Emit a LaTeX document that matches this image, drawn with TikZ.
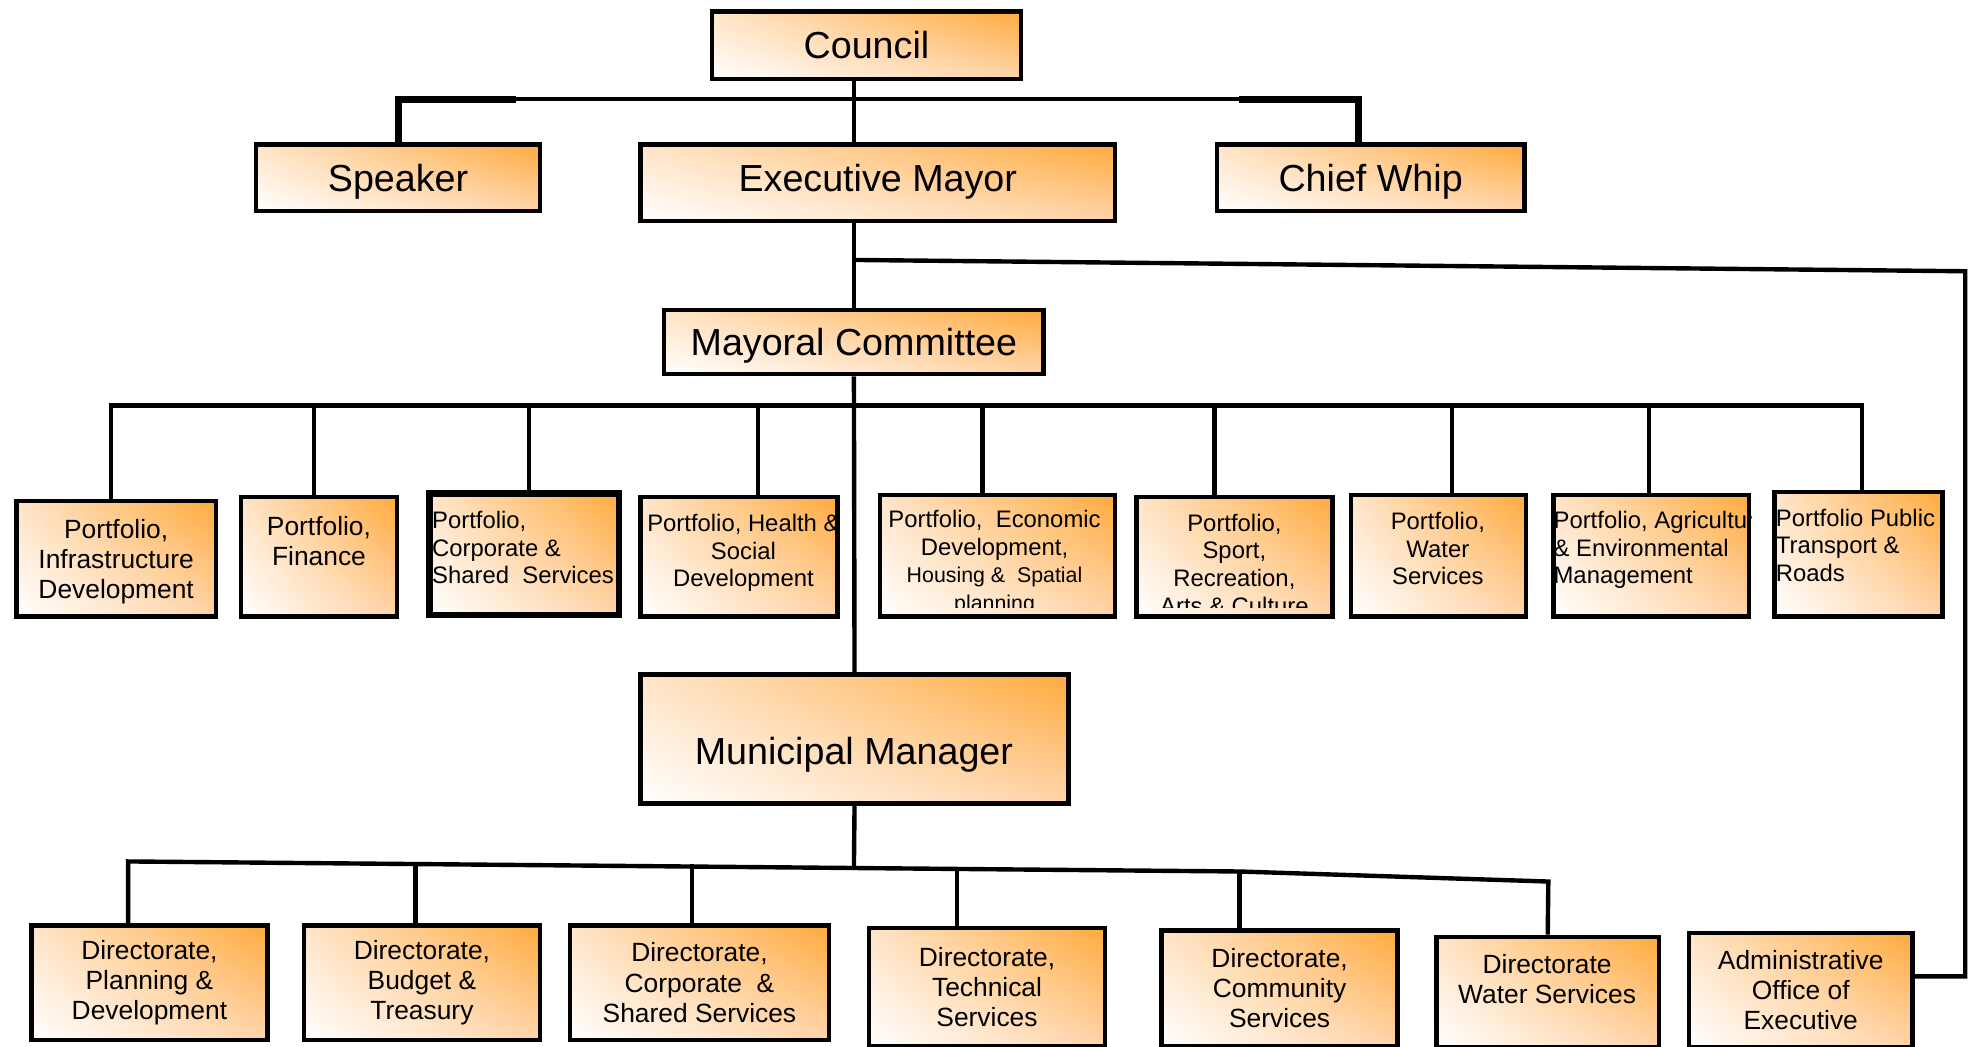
\documentclass[tikz,border=0pt]{standalone}
\usepackage{fontspec}
\setmainfont{Liberation Sans}
\usetikzlibrary{shadings}
\definecolor{boxorange}{RGB}{255,170,60}
\definecolor{boxpeach}{RGB}{255,228,200}
\definecolor{boxtan}{RGB}{255,212,170}
\tikzset{
  box/.style={draw,line width=3.5pt,upper right=boxorange,lower left=white,upper left=boxpeach,lower right=boxtan,inner sep=0pt},
  link/.style={line width=3.5pt},
  big/.style={font=\fontsize{30}{36}\selectfont,inner sep=0pt,text depth=0pt},
  mid/.style={font=\fontsize{21}{24}\selectfont,align=center,inner sep=0pt},
  sml/.style={font=\fontsize{19}{22}\selectfont,align=center,inner sep=0pt},
}
\begin{document}
\begin{tikzpicture}[x=1pt,y=-1pt]
\useasboundingbox (0,0) rectangle (1568,833);
\clip (0,0) rectangle (1568,833);
% council level
\node[box,big,minimum width=246pt,minimum height=54pt] (council) at (690,36) {Council};
\node[box,big,minimum width=226pt,minimum height=53pt] (speaker) at (317,141.5) {Speaker};
\node[box,big,text depth=8pt,minimum width=378pt,minimum height=61pt] (mayor) at (699,145.5) {Executive Mayor};
\node[box,big,minimum width=245pt,minimum height=53pt] (whip) at (1091.5,141.5) {Chief Whip};
\node[box,big,minimum width=302pt,minimum height=51pt] (mcom) at (680,272.5) {Mayoral Committee};
% portfolios
\node[box,minimum width=159pt,minimum height=92pt] (pf1) at (92.5,445) {};
\node[box,minimum width=124pt,minimum height=95pt] (pf2) at (254,443.5) {};
\node[box,line width=5pt,minimum width=151pt,minimum height=97pt] (pf3) at (417.5,441.5) {};
\node[box,minimum width=157pt,minimum height=95pt] (pf4) at (588.5,443.5) {};
\node[box,minimum width=187pt,minimum height=97pt] (pf5) at (794.5,442.5) {};
\node[box,minimum width=156pt,minimum height=95pt] (pf6) at (983,443.5) {};
\node[box,minimum width=139pt,minimum height=97pt] (pf7) at (1145.5,442.5) {};
\node[box,minimum width=156pt,minimum height=97pt] (pf8) at (1315,442.5) {};
\node[box,minimum width=134pt,minimum height=99pt] (pf9) at (1480,441.5) {};
\node[mid] (pf1t) at (92.5,447) {Portfolio,\\Infrastructure\\Development};
\node[mid] (pf2t) at (254,431) {Portfolio,\\Finance};
\node[sml,align=left,anchor=west] (pf3t) at (344,436) {Portfolio,\\Corporate \&\\Shared\ \ Services};
\node[sml] (pf4t) at (592,440.5) {Portfolio, Health \&\\Social\\Development};
\begin{scope}
  \clip (pf5.north west) rectangle ([yshift=9pt]pf5.south east);
  \node[sml,anchor=north] (pf5t) at (792,406) {Portfolio,\ \ Economic\\Development,\\\fontsize{17}{19}\selectfont Housing \&\ \ Spatial\\\fontsize{17}{19}\selectfont planning};
\end{scope}
\begin{scope}
  \clip (pf6.north west) rectangle ([yshift=9pt]pf6.south east);
  \node[sml,anchor=north] (pf6t) at (983,409) {Portfolio,\\Sport,\\Recreation,\\Arts \& Culture};
\end{scope}
\node[sml] (pf7t) at (1145,437) {Portfolio,\\Water\\Services};
\begin{scope}
  \clip (pf8.north west) rectangle (pf8.south east);
  \node[sml,align=left,anchor=north west] (pf8t) at (1237,407) {Portfolio, Agriculture\\\& Environmental\\Management};
\end{scope}
\node[sml,align=left,anchor=north west] (pf9t) at (1414,405) {Portfolio Public\\Transport \&\\Roads};
% manager level
\node[box,minimum width=341pt,minimum height=103pt] (mm) at (680.5,588.5) {};
\node[big] (mmt) at (680,598) {Municipal Manager};
\node[box,mid,minimum width=188pt,minimum height=91pt] (dir1) at (119,782.5) {Directorate,\\Planning \&\\Development};
\node[box,mid,minimum width=188pt,minimum height=91pt] (dir2) at (336,782.5) {Directorate,\\Budget \&\\Treasury};
\node[box,mid,minimum width=206pt,minimum height=91pt] (dir3) at (557,782.5) {Directorate,\\Corporate\ \ \&\\Shared Services};
\node[box,mid,minimum width=188pt,minimum height=94pt] (dir4) at (786,786) {Directorate,\\Technical\\Services};
\node[box,mid,minimum width=188pt,minimum height=92pt] (dir5) at (1019,787) {Directorate,\\Community\\Services};
\node[box,minimum width=177pt,minimum height=88pt] (dir6) at (1232.5,790) {};
\node[mid] (dir6t) at (1232,780) {Directorate\\Water Services};
\node[box,mid,minimum width=178pt,minimum height=91pt] (dir7) at (1434,788.5) {Administrative\\Office of\\Executive};
% connectors
\coordinate (topbus) at (680,79);
\coordinate (split) at (680,207);
\coordinate (rtop) at (1565,216);
\coordinate (pbus) at (680,323);
\coordinate (mtrunk) at (680,692);
\coordinate (mbusl) at (102,686);
\coordinate (mbusm) at (987,694);
\coordinate (mbusr) at (1233,702);
\draw[link] (council.south -| mcom.north) -- (mayor.north -| mcom.north);
\draw[link] (speaker.north) |- (topbus) -| ([xshift=-10pt]whip.north);
\draw[link,line width=5.5pt] (speaker.north) |- ([xshift=94pt]speaker.north |- topbus);
\draw[link,line width=5.5pt] ([xshift=-105pt]whip.north |- topbus) -| ([xshift=-10pt]whip.north);
\draw[link] (mayor.south -| mcom.north) -- (mcom.north);
\draw[link] (split) -- (rtop) |- ([yshift=11pt]dir7.east);
\draw[link] (mcom.south) -- (mm.north);
\foreach \p/\dx in {pf1/-4,pf2/-4,pf3/4,pf4/15,pf5/-12,pf6/-16,pf7/11,pf8/-2,pf9/3}
  \draw[link] ([xshift=\dx pt]\p.north) |- (pbus);
\draw[link] (mm.south) -- (mtrunk);
\draw[link] ([xshift=-17pt]dir1.north) -- (mbusl) -- (mbusm) -- (mbusr) -- (dir6.north);
\draw[link] ([xshift=-32pt]dir5.north) -- (mbusm);
\foreach \d/\dx/\len in {dir2/-5/49,dir3/-6/47,dir4/-24/47}
  \draw[link] ([xshift=\dx pt]\d.north) -- ++(0,-\len);
\end{tikzpicture}
\end{document}
